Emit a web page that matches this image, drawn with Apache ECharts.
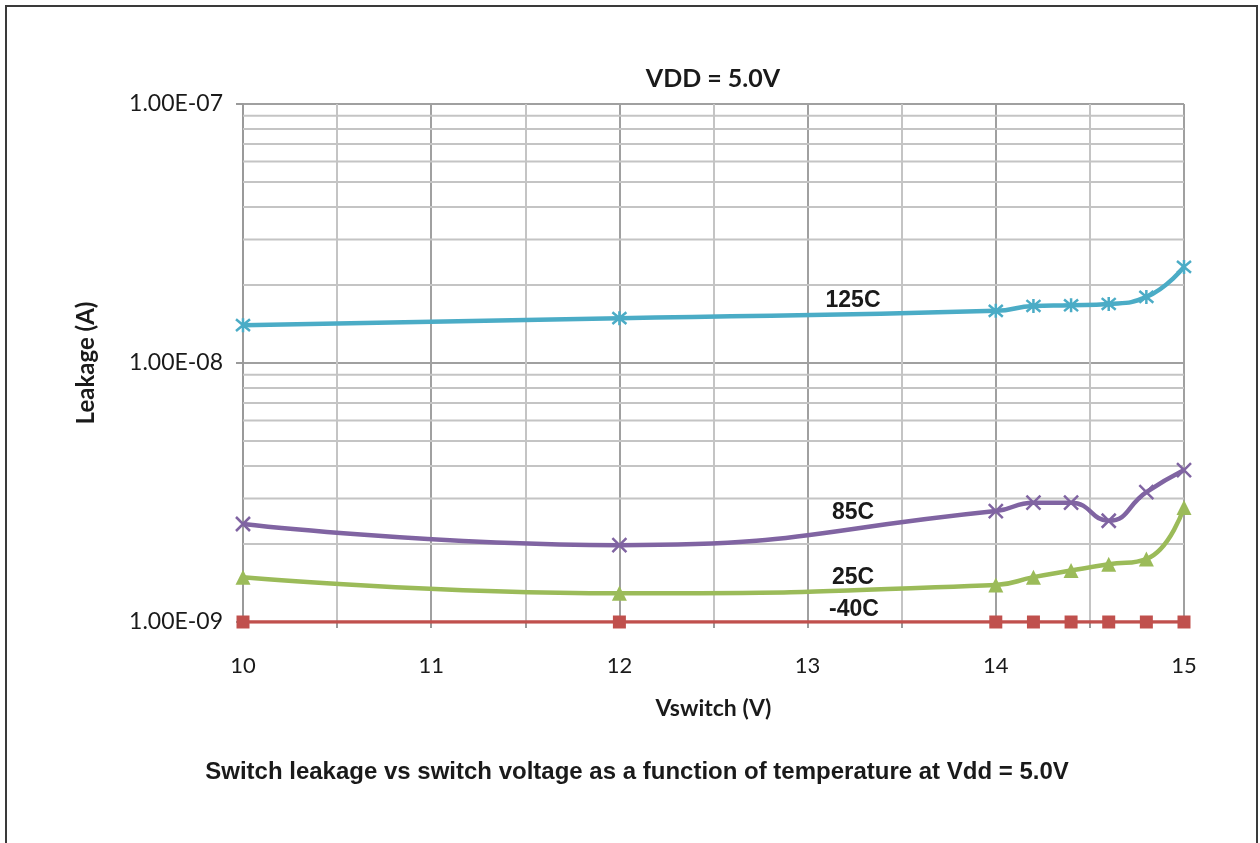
<!DOCTYPE html>
<html>
<head>
<meta charset="utf-8">
<script src="https://cdn.jsdelivr.net/npm/echarts@6/dist/echarts.min.js"></script>
<style>
html,body{margin:0;padding:0;background:#fff;}
#chart{width:1260px;height:843px;}
</style>
</head>
<body>
<div id="chart"></div>
<script>
// ---- data ----
const vswitch = [10, 12, 14, 14.2, 14.4, 14.6, 14.8, 15];
const leak125 = [1.40e-8, 1.49e-8, 1.59e-8, 1.66e-8, 1.67e-8, 1.69e-8, 1.80e-8, 2.35e-8];
const leak85  = [2.39e-9, 1.98e-9, 2.68e-9, 2.89e-9, 2.89e-9, 2.46e-9, 3.17e-9, 3.86e-9];
const leak25  = [1.49e-9, 1.29e-9, 1.39e-9, 1.49e-9, 1.58e-9, 1.67e-9, 1.75e-9, 2.77e-9];
const leakM40 = [1e-9, 1e-9, 1e-9, 1e-9, 1e-9, 1e-9, 1e-9, 1e-9];
const seriesNames = ['125C', '85C', '25C', '-40C'];
const minorGridValues = [2e-9,3e-9,4e-9,5e-9,6e-9,7e-9,8e-9,9e-9,2e-8,3e-8,4e-8,5e-8,6e-8,7e-8,8e-8,9e-8];
const xRange = [10, 15];
const titleText = 'VDD = 5.0V';
const xName = 'Vswitch (V)';
const yName = 'Leakage (A)';
const caption = 'Switch leakage vs switch voltage as a function of temperature at Vdd = 5.0V';

function pairs(ys){ return vswitch.map((x,i)=>[x, ys[i]]); }
function fmtExp(v){
  const e = Math.round(Math.log10(v));
  const m = v / Math.pow(10, e);
  const s = e < 0 ? '-' : '+';
  const a = Math.abs(e);
  return m.toFixed(2) + 'E' + s + (a < 10 ? '0' + a : '' + a);
}

const chart = echarts.init(document.getElementById('chart'));
const boldCal = 'Lato';
const lineW = 4.5;
const starPath = 'path://M0,0L10,10M10,0L0,10M5,-1L5,11';
const xPath = 'path://M0,0L10,10M10,0L0,10';

const labelStyle = {fontFamily:'Liberation Sans', fontWeight:'bold', fontSize:23, fill:'#1a1a1a', textAlign:'center', textVerticalAlign:'middle'};

const gridSeries = minorGridValues.map(v => ({
  type:'line', data:[[xRange[0], v], [xRange[1], v]], z:1, silent:true,
  symbol:'none', showSymbol:false,
  lineStyle:{color:'#c4c4c4', width:2}, emphasis:{disabled:true}
}));

chart.setOption({
  animation:false,
  backgroundColor:'#fff',
  grid:{left:243, right:76, top:104, bottom:221, containLabel:false},
  xAxis:{
    type:'value', min:xRange[0], max:xRange[1], interval:1,
    name:xName, nameLocation:'middle', nameGap:75,
    nameTextStyle:{fontFamily:boldCal, fontWeight:'bold', fontSize:23, color:'#1a1a1a'},
    axisLine:{show:true, lineStyle:{color:'#9a9a9a', width:2}},
    axisTick:{show:true, length:6, lineStyle:{color:'#9a9a9a', width:2}},
    minorTick:{show:true, splitNumber:2, length:6, lineStyle:{color:'#9a9a9a', width:2}},
    axisLabel:{fontFamily:'Lato', fontSize:22, color:'#1a1a1a', margin:33},
    splitLine:{show:true, lineStyle:{color:'#a0a0a0', width:2}},
    minorSplitLine:{show:true, lineStyle:{color:'#c4c4c4', width:2}}
  },
  yAxis:{
    type:'log', logBase:10, min:1e-9, max:1e-7,
    name:yName, nameLocation:'middle', nameGap:145, nameRotate:90,
    nameTextStyle:{fontFamily:boldCal, fontWeight:'bold', fontSize:24, color:'#1a1a1a'},
    axisLine:{show:true, lineStyle:{color:'#9a9a9a', width:2}},
    axisTick:{show:true, length:7, lineStyle:{color:'#9a9a9a', width:2}},
    axisLabel:{fontFamily:'Lato', fontSize:23, color:'#1a1a1a', margin:20, formatter:fmtExp},
    splitLine:{show:true, lineStyle:{color:'#a0a0a0', width:2}}
  },
  graphic:[
    {type:'rect', shape:{x:6, y:6, width:1251, height:900}, style:{fill:'none', stroke:'#3a3a3a', lineWidth:2}, z:-10, silent:true},
    {type:'text', x:713, y:79, style:{text:titleText, fontFamily:boldCal, fontWeight:'bold', fontSize:25, fill:'#1a1a1a', textAlign:'center', textVerticalAlign:'middle'}},
    {type:'text', x:637, y:772, style:{text:caption, fontFamily:'Liberation Sans', fontWeight:'bold', fontSize:24, fill:'#1a1a1a', textAlign:'center', textVerticalAlign:'middle'}},
    {type:'text', x:853, y:301, style:Object.assign({text:seriesNames[0]}, labelStyle), z:100},
    {type:'text', x:853, y:513, style:Object.assign({text:seriesNames[1]}, labelStyle), z:100},
    {type:'text', x:853, y:578, style:Object.assign({text:seriesNames[2]}, labelStyle), z:100},
    {type:'text', x:854, y:610, style:Object.assign({text:seriesNames[3]}, labelStyle), z:100}
  ],
  series: gridSeries.concat([
    {
      name:seriesNames[3], type:'line', data:pairs(leakM40), z:5,
      smooth:0.5, symbol:'rect', symbolSize:13,
      lineStyle:{color:'#c0504d', width:3.5},
      itemStyle:{color:'#c0504d'}
    },
    {
      name:seriesNames[2], type:'line', data:pairs(leak25), z:6,
      smooth:0.5, symbol:'triangle', symbolSize:15,
      lineStyle:{color:'#9bbb59', width:lineW},
      itemStyle:{color:'#9bbb59'}
    },
    {
      name:seriesNames[1], type:'line', data:pairs(leak85), z:7,
      smooth:0.5, symbol:xPath, symbolSize:14,
      lineStyle:{color:'#8064a2', width:lineW},
      itemStyle:{color:'#8064a2', borderColor:'#8064a2', borderWidth:2.5}
    },
    {
      name:seriesNames[0], type:'line', data:pairs(leak125), z:8,
      smooth:0.5, symbol:starPath, symbolSize:14,
      lineStyle:{color:'#4bacc6', width:lineW},
      itemStyle:{color:'#4bacc6', borderColor:'#4bacc6', borderWidth:2.5}
    }
  ])
});
</script>
</body>
</html>
